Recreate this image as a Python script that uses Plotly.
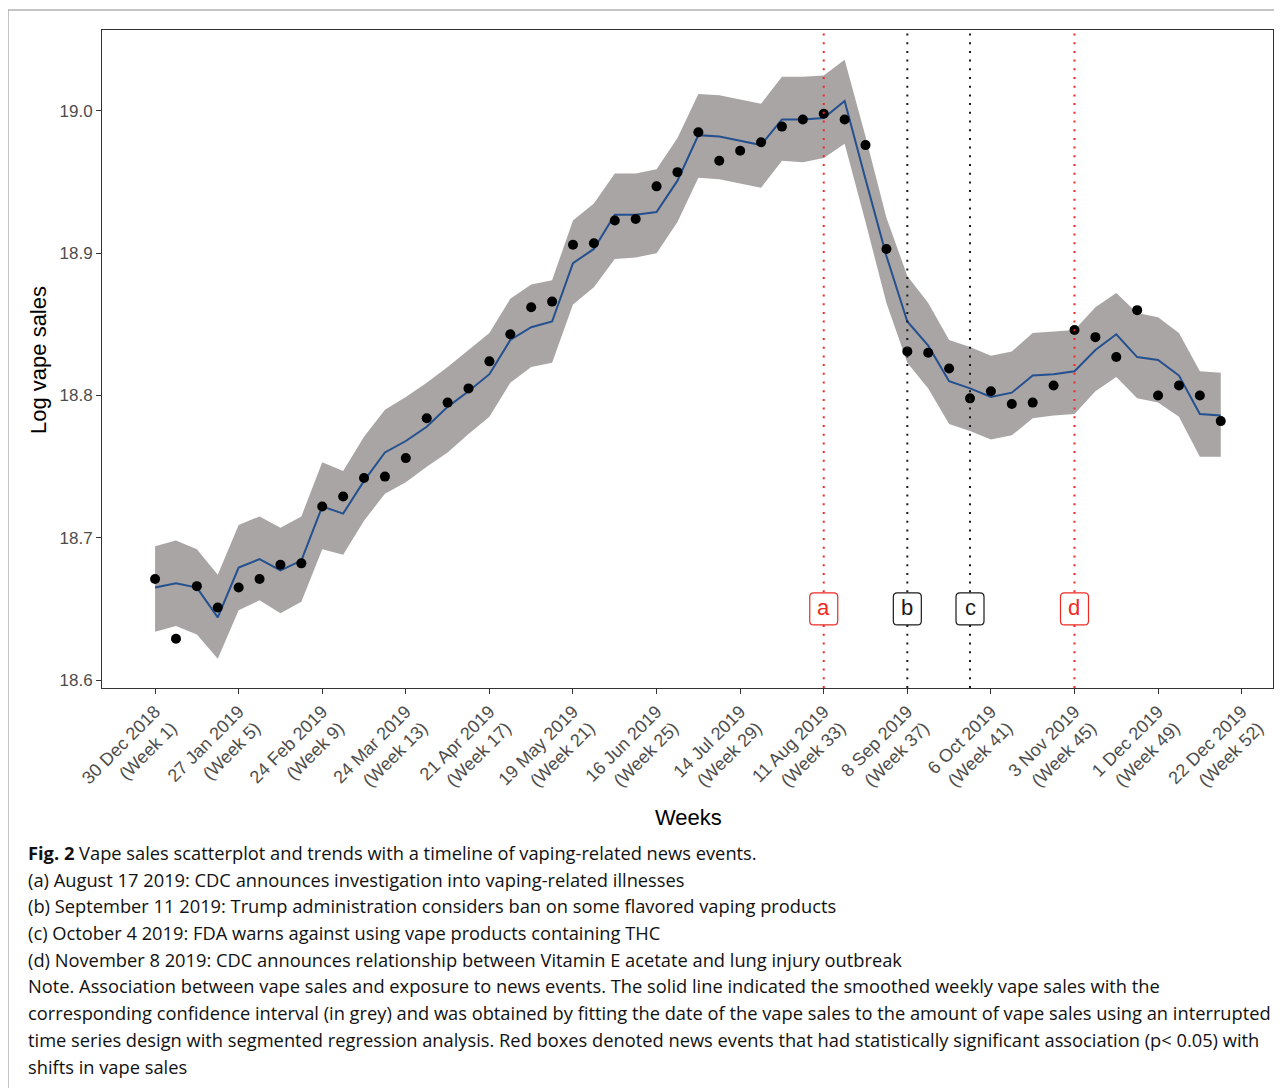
import plotly.graph_objects as go

weeks = list(range(1, 53))

sales = [18.671, 18.629, 18.666, 18.651, 18.665, 18.671, 18.681, 18.682, 18.722, 18.729,
         18.742, 18.743, 18.756, 18.784, 18.795, 18.805, 18.824, 18.843, 18.862, 18.866,
         18.906, 18.907, 18.923, 18.924, 18.947, 18.957, 18.985, 18.965, 18.972, 18.978,
         18.989, 18.994, 18.998, 18.994, 18.976, 18.903, 18.831, 18.830, 18.819, 18.798,
         18.803, 18.794, 18.795, 18.807, 18.846, 18.841, 18.827, 18.860, 18.800, 18.807,
         18.800, 18.782]

fitted = [18.665, 18.668, 18.665, 18.644, 18.679, 18.685, 18.677, 18.684, 18.722, 18.717,
          18.740, 18.760, 18.768, 18.778, 18.792, 18.803, 18.815, 18.839, 18.848, 18.852,
          18.893, 18.903, 18.927, 18.927, 18.929, 18.951, 18.983, 18.982, 18.979, 18.976,
          18.994, 18.994, 18.995, 19.007, 18.952, 18.898, 18.852, 18.835, 18.810, 18.805,
          18.799, 18.802, 18.814, 18.815, 18.817, 18.832, 18.843, 18.827, 18.825, 18.814,
          18.787, 18.786]

upper = [18.694, 18.698, 18.692, 18.674, 18.709, 18.715, 18.707, 18.715, 18.753, 18.747,
         18.771, 18.790, 18.799, 18.809, 18.820, 18.832, 18.844, 18.868, 18.878, 18.881,
         18.923, 18.935, 18.956, 18.956, 18.959, 18.981, 19.012, 19.011, 19.008, 19.005,
         19.024, 19.024, 19.025, 19.036, 18.982, 18.925, 18.884, 18.865, 18.839, 18.834,
         18.828, 18.831, 18.844, 18.845, 18.846, 18.862, 18.872, 18.858, 18.855, 18.844,
         18.817, 18.816]

lower = [18.634, 18.638, 18.632, 18.615, 18.649, 18.656, 18.647, 18.655, 18.692, 18.688,
         18.712, 18.731, 18.739, 18.750, 18.760, 18.773, 18.785, 18.809, 18.820, 18.823,
         18.864, 18.876, 18.896, 18.897, 18.900, 18.922, 18.953, 18.952, 18.949, 18.946,
         18.965, 18.964, 18.967, 18.977, 18.922, 18.865, 18.823, 18.805, 18.780, 18.775,
         18.769, 18.772, 18.784, 18.786, 18.787, 18.803, 18.813, 18.798, 18.795, 18.785,
         18.757, 18.757]

tick_weeks = [1, 5, 9, 13, 17, 21, 25, 29, 33, 37, 41, 45, 49, 53]
tick_labels = ["30 Dec 2018<br>(Week 1)", "27 Jan 2019<br>(Week 5)", "24 Feb 2019<br>(Week 9)",
               "24 Mar 2019<br>(Week 13)", "21 Apr 2019<br>(Week 17)", "19 May 2019<br>(Week 21)",
               "16 Jun 2019<br>(Week 25)", "14 Jul 2019<br>(Week 29)", "11 Aug 2019<br>(Week 33)",
               "8 Sep 2019<br>(Week 37)", "6 Oct 2019<br>(Week 41)", "3 Nov 2019<br>(Week 45)",
               "1 Dec 2019<br>(Week 49)", "22 Dec 2019<br>(Week 52)"]

y_ticks = [18.6, 18.7, 18.8, 18.9, 19.0]

event_labels = ["a", "b", "c", "d"]
event_weeks = [33, 37, 40, 45]
event_significant = [True, False, False, True]
event_label_y = 18.65

caption_lines = [
    "<b>Fig. 2</b> Vape sales scatterplot and trends with a timeline of vaping-related news events.",
    "(a) August 17 2019: CDC announces investigation into vaping-related illnesses",
    "(b) September 11 2019: Trump administration considers ban on some flavored vaping products",
    "(c) October 4 2019: FDA warns against using vape products containing THC",
    "(d) November 8 2019: CDC announces relationship between Vitamin E acetate and lung injury outbreak",
    "Note. Association between vape sales and exposure to news events. The solid line indicated the smoothed weekly vape sales with the",
    "corresponding confidence interval (in grey) and was obtained by fitting the date of the vape sales to the amount of vape sales using an interrupted",
    "time series design with segmented regression analysis. Red boxes denoted news events that had statistically significant association (p< 0.05) with",
    "shifts in vape sales",
]

RED = "#ee2a22"
BLACK = "#1a1a1a"

OFF = 8  # page body margin
W, H = 1282 - OFF, 1088 - OFF
ML, MR, MT, MB = 102 - OFF, 9, 30 - OFF, 400
PW, PH = W - ML - MR, H - MT - MB


def px_x(p):
    return (p - OFF - ML) / PW


def px_y(p):
    return (H - MB - (p - OFF)) / PH


fig = go.Figure()

fig.add_trace(go.Scatter(x=weeks, y=lower, mode="lines", line=dict(width=0),
                         hoverinfo="skip", showlegend=False))
fig.add_trace(go.Scatter(x=weeks, y=upper, mode="lines", line=dict(width=0),
                         fill="tonexty", fillcolor="#a8a5a4",
                         hoverinfo="skip", showlegend=False))
fig.add_trace(go.Scatter(x=weeks, y=fitted, mode="lines",
                         line=dict(color="#24508f", width=2), showlegend=False))
fig.add_trace(go.Scatter(x=weeks, y=sales, mode="markers",
                         marker=dict(color="black", size=10), showlegend=False))

shapes = []
annotations = []
for lab, wk, sig in zip(event_labels, event_weeks, event_significant):
    col = RED if sig else BLACK
    shapes.append(dict(type="line", xref="x", yref="paper", x0=wk, x1=wk, y0=0, y1=1,
                       line=dict(color=col, width=2, dash="2px,6.7px"), layer="above"))
for lab, wk, sig in zip(event_labels, event_weeks, event_significant):
    col = RED if sig else BLACK
    path = ("M -10,-16 L 10,-16 Q 14,-16 14,-12 L 14,12 Q 14,16 10,16 "
            "L -10,16 Q -14,16 -14,12 L -14,-12 Q -14,-16 -10,-16 Z")
    shapes.append(dict(type="path", xref="x", yref="y", xsizemode="pixel", ysizemode="pixel",
                       xanchor=wk, yanchor=event_label_y, path=path,
                       line=dict(color=col, width=1.2), fillcolor="white", layer="above"))
    annotations.append(dict(x=wk, y=event_label_y, xref="x", yref="y", text=lab, showarrow=False,
                            font=dict(family="Liberation Sans, Arial, sans-serif", size=22, color=col),
                            xanchor="center", yanchor="middle", yshift=1))

# outer figure border
shapes.append(dict(type="rect", xref="paper", yref="paper",
                   x0=px_x(8), x1=px_x(1300), y0=px_y(1100), y1=px_y(10),
                   line=dict(color="#8a8a8a", width=1), fillcolor="rgba(0,0,0,0)", layer="below"))

# axis titles
annotations.append(dict(x=px_x(38), y=px_y(360), xref="paper", yref="paper", text="Log vape sales",
                        textangle=-90, showarrow=False, xanchor="center", yanchor="middle",
                        font=dict(family="Liberation Sans, Arial, sans-serif", size=22, color="black")))
annotations.append(dict(x=px_x(688), y=px_y(817), xref="paper", yref="paper", text="Weeks",
                        showarrow=False, xanchor="center", yanchor="middle",
                        font=dict(family="Liberation Sans, Arial, sans-serif", size=22, color="black")))

caption_y = [852, 879, 905, 932, 959, 985, 1012, 1039, 1066]
for line, yy in zip(caption_lines, caption_y):
    annotations.append(dict(x=px_x(26), y=px_y(yy), xref="paper", yref="paper", text=line,
                            showarrow=False, xanchor="left", yanchor="middle", align="left",
                            font=dict(family="Open Sans, sans-serif", size=18.3, color="#111")))

fig.update_layout(
    width=W, height=H,
    margin=dict(l=ML, r=MR, t=MT, b=MB, pad=0),
    paper_bgcolor="white", plot_bgcolor="white",
    shapes=shapes, annotations=annotations,
    showlegend=False,
    xaxis=dict(range=[-1.54, 54.5], tickmode="array", tickvals=tick_weeks, ticktext=tick_labels,
               tickangle=-45, showgrid=False, zeroline=False, showline=True, mirror=True,
               linecolor="#333", linewidth=1, ticks="outside", ticklen=5, tickcolor="#333",
               tickfont=dict(family="Liberation Sans, Arial, sans-serif", size=18, color="#4d4d4d"),
               automargin=False),
    yaxis=dict(range=[18.5944, 19.0569], tickmode="array", tickvals=y_ticks,
               ticktext=[f"{v:.1f}" for v in y_ticks],
               showgrid=False, zeroline=False, showline=True, mirror=True,
               linecolor="#333", linewidth=1, ticks="outside", ticklen=5, tickcolor="#333",
               tickfont=dict(family="Liberation Sans, Arial, sans-serif", size=17, color="#4d4d4d"),
               automargin=False),
)

fig.write_html("out.html")
